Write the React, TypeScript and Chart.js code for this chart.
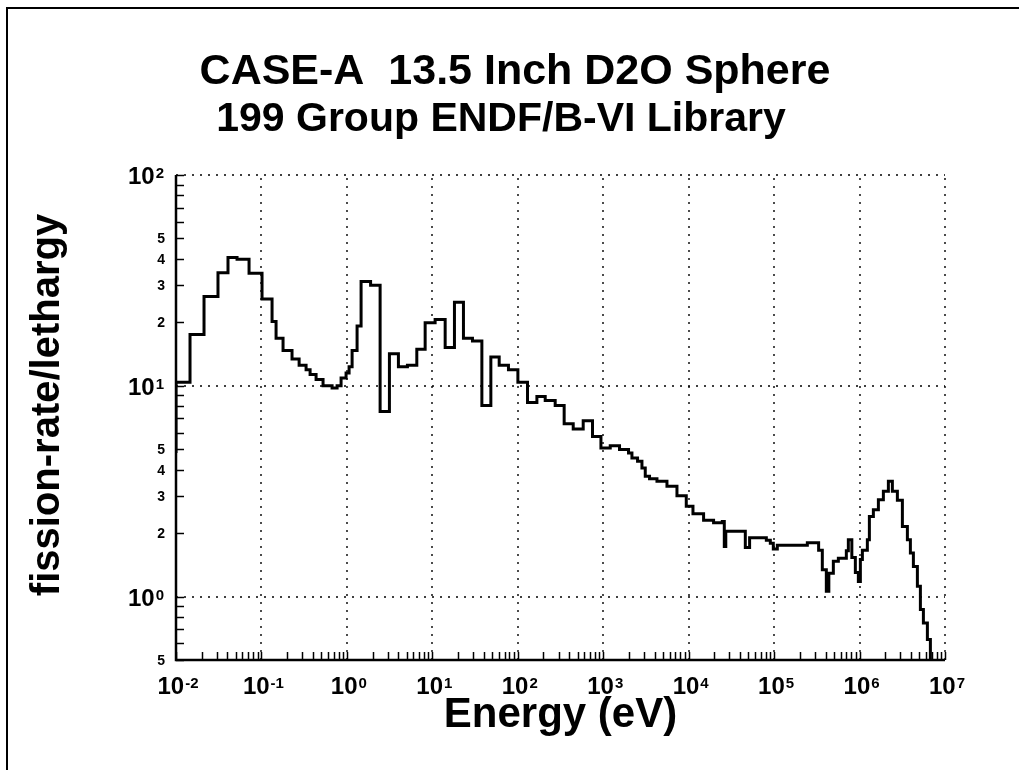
import React, { useEffect, useRef } from 'react';
import { Chart, registerables } from 'chart.js';

Chart.register(...registerables);

// ---- data (group edges in eV, fission-rate/lethargy value starting at each edge) ----
const energyEdges = [
  0.01, 0.01, 0.01459, 0.02128, 0.031, 0.0406, 0.0518, 0.0716, 0.1016, 0.1331,
  0.1483, 0.179, 0.228, 0.276, 0.333, 0.371, 0.436, 0.526, 0.671, 0.768,
  0.855, 0.978, 1.061, 1.151, 1.316, 1.466, 1.894, 2.448, 3.146, 4.009,
  5.11, 6.58, 8.24, 10.78, 14.13, 18.15, 23.13, 29.49, 38.0, 48.4,
  60.6, 77.8, 100.3, 130, 167.4, 209.4, 274, 349, 445.5, 583,
  749, 940, 1208, 1552, 1978, 2168, 2522, 2839, 3104, 3484,
  4256, 5571, 7295, 9374, 11230, 14950, 19570, 24740, 26120, 27190,
  46020, 51660, 81090, 90270, 97860, 109000, 244800, 331900, 366600, 408400,
  437000, 493400, 564700, 700200, 739200, 812300, 892800, 968100, 1.022e6, 1.079e6,
  1.234e6, 1.303e6, 1.451e6, 1.661e6, 1.9e6, 2.174e6, 2.421e6, 2.771e6, 3.171e6, 3.629e6,
  3.934e6, 4.266e6, 4.751e6, 5.152e6, 5.586e6, 6.221e6, 6.745e6, 7.513e6,
];

const fissionRate = [
  4.8, 10.4, 17.5, 26.5, 34.4, 40.6, 39.8, 34.2, 25.8, 20.2,
  16.8, 14.7, 13.4, 12.5, 11.9, 11.3, 10.7, 10.0, 9.75, 10.0,
  10.9, 11.5, 12.3, 14.7, 19.2, 31.2, 30.0, 7.55, 14.2, 12.3,
  12.5, 14.9, 19.9, 20.6, 15.2, 24.9, 16.8, 16.3, 8.07, 13.7,
  12.5, 11.9, 10.4, 8.34, 8.89, 8.52, 8.07, 6.61, 6.24, 6.82,
  5.75, 5.07, 5.2, 4.98, 4.8, 4.54, 4.38, 4.07, 3.72, 3.62,
  3.52, 3.34, 3.01, 2.68, 2.47, 2.3, 2.24, 2.27, 1.73, 2.04,
  1.71, 1.9, 1.85, 1.79, 1.68, 1.75, 1.8, 1.66, 1.34, 1.06,
  1.29, 1.47, 1.52, 1.65, 1.86, 1.53, 1.3, 1.18, 1.5, 1.66,
  1.86, 2.4, 2.58, 2.88, 3.16, 3.52, 3.16, 2.86, 2.15, 1.86,
  1.61, 1.39, 1.12, 0.867, 0.75, 0.625, 0.45, 0.3,
];

// ---- axes / ticks ----
const xMin = 0.01;
const xMax = 1e7;
const yMin = 0.5;
const yMax = 100;
const xDecadeExponents = [-2, -1, 0, 1, 2, 3, 4, 5, 6, 7];
const yDecadeExponents = [0, 1, 2];
const minorMultipliers = [2, 3, 4, 5, 6, 7, 8, 9];
const yExtraMinorTicks = [0.5, 0.6, 0.7, 0.8, 0.9];
const yLabeledMinorValues = [0.5, 2, 3, 4, 5, 20, 30, 40, 50];
const yLabeledMinorText = ['5', '2', '3', '4', '5', '2', '3', '4', '5'];

// ---- text ----
const titleLine1 = 'CASE-A  13.5 Inch D2O Sphere';
const titleLine2 = '199 Group ENDF/B-VI Library';
const xAxisTitle = 'Energy (eV)';
const yAxisTitle = 'fission-rate/lethargy';

const FONT = '"Liberation Sans", Arial, Helvetica, sans-serif';

function drawPower(ctx: CanvasRenderingContext2D, exp: number, anchorX: number, baseline: number, align: 'center' | 'right') {
  ctx.font = `bold 24px ${FONT}`;
  const base = '10';
  const bw = ctx.measureText(base).width;
  ctx.font = `bold 15px ${FONT}`;
  const sup = String(exp);
  const sw = ctx.measureText(sup).width;
  const total = bw + sw + 1;
  const left = align === 'center' ? anchorX - total / 2 : anchorX - total;
  ctx.textAlign = 'left';
  ctx.textBaseline = 'alphabetic';
  ctx.font = `bold 24px ${FONT}`;
  ctx.fillText(base, left, baseline);
  ctx.font = `bold 15px ${FONT}`;
  ctx.fillText(sup, left + bw + 1, baseline - 6);
}

const customPlugin = {
  id: 'sphereDecor',
  beforeDatasetsDraw(chart: any) {
    const { ctx, chartArea: a, scales } = chart;
    const xs = scales.x;
    const ys = scales.y;
    ctx.save();
    ctx.strokeStyle = '#000';
    ctx.lineWidth = 1.4;
    ctx.setLineDash([2, 6]);
    for (const e of xDecadeExponents) {
      const px = Math.round(xs.getPixelForValue(Math.pow(10, e)));
      ctx.beginPath();
      ctx.moveTo(px, a.bottom);
      ctx.lineTo(px, a.top);
      ctx.stroke();
    }
    for (const e of yDecadeExponents) {
      const py = Math.round(ys.getPixelForValue(Math.pow(10, e)));
      ctx.beginPath();
      ctx.moveTo(a.left, py);
      ctx.lineTo(a.right, py);
      ctx.stroke();
    }
    ctx.restore();
  },
  afterDraw(chart: any) {
    const { ctx, chartArea: a, scales } = chart;
    const xs = scales.x;
    const ys = scales.y;
    ctx.save();
    ctx.fillStyle = '#000';
    ctx.strokeStyle = '#000';

    // outer frame (top and left edges)
    ctx.fillRect(6, 7, 1013, 2);
    ctx.fillRect(6, 7, 2, 763);

    // axis lines
    ctx.lineWidth = 2.5;
    ctx.beginPath();
    ctx.moveTo(a.left, a.top);
    ctx.lineTo(a.left, a.bottom);
    ctx.lineTo(a.right, a.bottom);
    ctx.stroke();

    // ticks
    ctx.lineWidth = 1.5;
    const tickLen = 8;
    const xTickVals: number[] = [];
    for (const e of xDecadeExponents) {
      xTickVals.push(Math.pow(10, e));
      if (e < 7) for (const m of minorMultipliers) xTickVals.push(m * Math.pow(10, e));
    }
    for (const v of xTickVals) {
      const px = Math.round(xs.getPixelForValue(v)) + 0.5;
      ctx.beginPath();
      ctx.moveTo(px, a.bottom);
      ctx.lineTo(px, a.bottom - tickLen);
      ctx.stroke();
    }
    const yTickVals: number[] = [...yExtraMinorTicks];
    for (const e of yDecadeExponents) {
      yTickVals.push(Math.pow(10, e));
      if (e < 2) for (const m of minorMultipliers) yTickVals.push(m * Math.pow(10, e));
    }
    for (const v of yTickVals) {
      const py = Math.round(ys.getPixelForValue(v)) + 0.5;
      ctx.beginPath();
      ctx.moveTo(a.left, py);
      ctx.lineTo(a.left + tickLen, py);
      ctx.stroke();
    }

    // x tick labels
    for (const e of xDecadeExponents) {
      const px = xs.getPixelForValue(Math.pow(10, e));
      drawPower(ctx, e, px + 2, 694, 'center');
    }
    // y tick labels
    for (const e of yDecadeExponents) {
      const py = ys.getPixelForValue(Math.pow(10, e));
      drawPower(ctx, e, 164, py + 9, 'right');
    }
    ctx.font = `bold 14px ${FONT}`;
    ctx.textAlign = 'right';
    ctx.textBaseline = 'middle';
    yLabeledMinorValues.forEach((v, i) => {
      const py = ys.getPixelForValue(v);
      ctx.fillText(yLabeledMinorText[i], 165, py + 1);
    });

    // titles
    ctx.textBaseline = 'alphabetic';
    ctx.textAlign = 'center';
    ctx.font = `bold 43px ${FONT}`;
    ctx.fillText(titleLine1, 515, 84);
    ctx.font = `bold 41px ${FONT}`;
    ctx.fillText(titleLine2, 501, 131);

    // axis titles
    ctx.font = `bold 42px ${FONT}`;
    ctx.fillText(xAxisTitle, (a.left + a.right) / 2, 727);

    ctx.save();
    ctx.translate(48, 405);
    ctx.rotate(-Math.PI / 2);
    ctx.font = `bold 40px ${FONT}`;
    ctx.textAlign = 'center';
    ctx.textBaseline = 'middle';
    ctx.fillText(yAxisTitle, 0, 0);
    ctx.restore();

    ctx.restore();
  },
};

export default function App() {
  const canvasRef = useRef<HTMLCanvasElement | null>(null);

  useEffect(() => {
    const canvas = canvasRef.current;
    if (!canvas) return;
    const points = energyEdges.map((e, i) => ({ x: e, y: fissionRate[i] }));
    const chart = new Chart(canvas, {
      type: 'line',
      data: {
        datasets: [
          {
            data: points,
            stepped: 'before',
            borderColor: '#000',
            borderWidth: 3,
            borderJoinStyle: 'miter',
            pointRadius: 0,
            fill: false,
            tension: 0,
          } as any,
        ],
      },
      options: {
        responsive: false,
        animation: false,
        devicePixelRatio: 1,
        layout: { padding: { left: 176, right: 74, top: 175, bottom: 110 } },
        plugins: {
          legend: { display: false },
          tooltip: { enabled: false },
          title: { display: false },
        },
        scales: {
          x: { type: 'logarithmic', min: xMin, max: xMax, display: false },
          y: { type: 'logarithmic', min: yMin, max: yMax, display: false },
        },
      } as any,
      plugins: [customPlugin],
    });
    return () => chart.destroy();
  }, []);

  return (
    <div style={{ position: 'fixed', left: 0, top: 0, width: 1019, height: 770, background: '#fff' }}>
      <canvas ref={canvasRef} width={1019} height={770} style={{ display: 'block', width: 1019, height: 770 }} />
    </div>
  );
}
